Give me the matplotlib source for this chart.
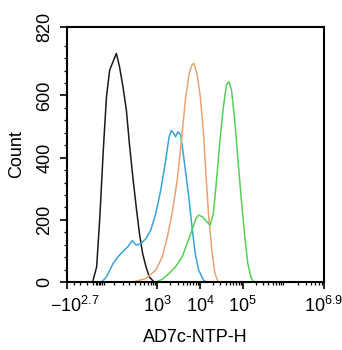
import matplotlib
matplotlib.use("Agg")
import matplotlib.pyplot as plt
import matplotlib.transforms as mtransforms
import numpy as np

plt.rcParams['font.family'] = ['Liberation Sans', 'DejaVu Sans']
plt.rcParams['mathtext.fontset'] = 'custom'
plt.rcParams['mathtext.rm'] = 'Liberation Sans'
plt.rcParams['mathtext.it'] = 'Liberation Sans:italic'
plt.rcParams['mathtext.bf'] = 'Liberation Sans:bold'

# x positions are in display decades (logicle-like axis), y are counts
black_x = [1.49, 1.585, 1.66, 1.74, 1.815, 1.89, 1.97, 2.046, 2.12, 2.2, 2.28, 2.35, 2.43, 2.51, 2.585, 2.66, 2.74, 2.815, 2.93]
black_y = [0, 49, 210, 424, 596, 682, 709, 735, 692, 628, 553, 446, 339, 242, 157, 92, 49, 17, 0]

blue_x = [1.70, 1.815, 1.97, 2.08, 2.2, 2.315, 2.415, 2.51, 2.62, 2.74, 2.85, 2.97, 3.085, 3.2, 3.28, 3.33, 3.39, 3.43, 3.49, 3.55, 3.6, 3.66, 3.74, 3.815, 3.89, 3.97, 4.085, 4.16]
blue_y = [0, 17, 60, 81, 98, 114, 133, 119, 124, 140, 167, 221, 296, 392, 467, 487, 478, 467, 483, 473, 424, 360, 274, 178, 92, 39, 6, 0]

orange_x = [2.43, 2.74, 2.97, 3.12, 3.24, 3.35, 3.47, 3.57, 3.66, 3.75, 3.815, 3.86, 3.93, 4.01, 4.085, 4.14, 4.2, 4.28, 4.35, 4.43]
orange_y = [0, 12, 39, 81, 146, 221, 328, 456, 585, 671, 698, 703, 671, 596, 478, 349, 221, 103, 28, 0]

green_x = [2.97, 3.12, 3.28, 3.43, 3.585, 3.7, 3.815, 3.91, 3.97, 4.06, 4.16, 4.24, 4.315, 4.39, 4.47, 4.55, 4.62, 4.68, 4.74, 4.815, 4.89, 4.97, 5.05, 5.12, 5.2, 5.26]
green_y = [0, 9, 28, 49, 81, 124, 167, 205, 215, 210, 194, 183, 221, 328, 456, 564, 634, 644, 617, 521, 392, 264, 146, 60, 12, 0]

xtick_pos = [0.90, 3, 4, 5, 6.9]
xtick_labels = [r'$-10^{2.7}$', r'$10^{3}$', r'$10^{4}$', r'$10^{5}$', r'$10^{6.9}$']
xminor_pos = [1.06, 1.2, 1.36, 1.5, 1.57, 1.6, 1.63, 1.66, 1.71, 1.75, 2.0, 2.2, 2.35]
xminor_pos += [np.log10(k) + n for n in range(2, 7) for k in range(2, 10) if np.log10(k) + n < 6.9 and np.log10(k) + n > 2.4]
ytick_pos = [0, 200, 400, 600, 820]
yminor_pos = [v for v in range(40, 820, 40) if v % 200 != 0]

fig = plt.figure(figsize=(3.42, 3.5), dpi=100)
ax = fig.add_axes([0.197, 0.194, 0.75, 0.729])

lw = 1.1
ax.plot(black_x, black_y, color='#1a1a1a', lw=lw)
ax.plot(blue_x, blue_y, color='#3aa3d3', lw=lw)
ax.plot(orange_x, orange_y, color='#eba272', lw=lw)
ax.plot(green_x, green_y, color='#55d055', lw=lw)

ax.set_xlim(0.90, 6.9)
ax.set_ylim(0, 820)

ax.set_xticks(xtick_pos)
ax.set_xticklabels(xtick_labels)
ax.set_xticks(xminor_pos, minor=True)
ax.set_yticks(ytick_pos)
ax.set_yticklabels([str(v) for v in ytick_pos], rotation=90, va='center')
ax.set_yticks(yminor_pos, minor=True)

ax.tick_params(axis='both', which='major', direction='out', length=5, width=1.2, labelsize=13, color='black')
ax.tick_params(axis='x', which='major', pad=5)
ax.tick_params(axis='y', which='major', pad=5)
ax.tick_params(axis='both', which='minor', direction='out', length=2.5, width=0.9, color='black')
for s in ax.spines.values():
    s.set_linewidth(1.5)
    s.set_color('black')

ax.set_xlabel('AD7c-NTP-H', fontsize=13, labelpad=9)
ax.set_ylabel('Count', fontsize=13, labelpad=8)

# shift the first x tick label slightly right
lab = ax.get_xticklabels()[0]
lab.set_transform(lab.get_transform() + mtransforms.ScaledTranslation(7/100, 0, fig.dpi_scale_trans))

fig.savefig('out.png', dpi=100)
